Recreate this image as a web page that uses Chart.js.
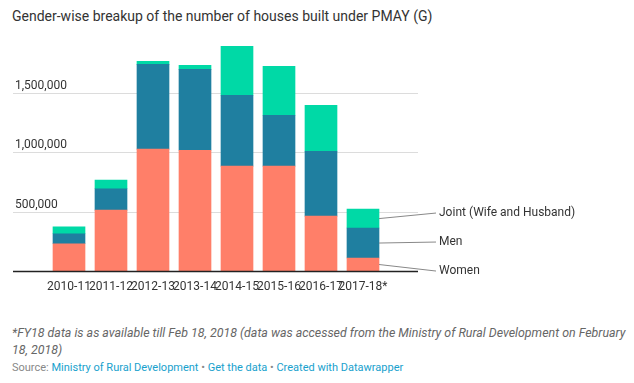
<!DOCTYPE html>
<html>
<head>
<meta charset="utf-8">
<script src="https://cdn.jsdelivr.net/npm/chart.js@4.4.1/dist/chart.umd.min.js"></script>
<style>
  html, body { margin: 0; padding: 0; background: #fff; }
  body { width: 634px; height: 383px; position: relative; overflow: hidden; font-family: Roboto, sans-serif; }
  #title { position: absolute; left: 12px; top: 8px; font-size: 14px; color: #333; white-space: nowrap; }
  #chart { position: absolute; left: 0; top: 25px; }
  #note { position: absolute; left: 12px; top: 324px; width: 620px; font-size: 12.4px; line-height: 17px; font-style: italic; color: #666; }
  #source { position: absolute; left: 12px; top: 361px; font-size: 11px; color: #888; white-space: nowrap; }
  #source a { color: #18a1cd; text-decoration: none; }
</style>
</head>
<body>
<div id="title">Gender-wise breakup of the number of houses built under PMAY (G)</div>
<canvas id="chart" width="634" height="270"></canvas>
<div id="note">*FY18 data is as available till Feb 18, 2018 (data was accessed from the Ministry of Rural Development on February 18, 2018)</div>
<div id="source">Source: <a>Ministry of Rural Development</a> • <a>Get the data</a> • <a>Created with Datawrapper</a></div>
<script>
const years = ["2010-11", "2011-12", "2012-13", "2013-14", "2014-15", "2015-16", "2016-17", "2017-18*"];
const women = [229000, 512000, 1024000, 1015000, 881000, 881000, 461000, 109000];
const men = [84000, 179000, 713000, 680000, 596000, 428000, 545000, 252000];
const joint = [59000, 73000, 25000, 34000, 411000, 411000, 386000, 159000];
const seriesNames = ["Women", "Men", "Joint (Wife and Husband)"];
const yTicks = [500000, 1000000, 1500000];

const COLORS = ["#ff7f69", "#1f7fa0", "#00d9a6"];
const GRID_LEFT = 13;
const GRID_RIGHT = 418;

// grid lines + y labels drawn wider than the plot area, like datawrapper does
const gridPlugin = {
  id: "gridPlugin",
  beforeDatasetsDraw(chart) {
    const ctx = chart.ctx;
    const y = chart.scales.y;
    ctx.save();
    ctx.strokeStyle = "#dcdcdc";
    ctx.lineWidth = 1;
    ctx.font = "12px Roboto";
    ctx.fillStyle = "#333";
    ctx.textAlign = "left";
    ctx.textBaseline = "alphabetic";
    yTicks.forEach((v) => {
      const py = Math.round(y.getPixelForValue(v)) + 0.5;
      ctx.beginPath();
      ctx.moveTo(GRID_LEFT, py);
      ctx.lineTo(GRID_RIGHT, py);
      ctx.stroke();
      ctx.fillText(v.toLocaleString("en-US"), 15, py - 5);
    });
    ctx.restore();
  },
  afterDatasetsDraw(chart) {
    const ctx = chart.ctx;
    const x = chart.scales.x;
    const y = chart.scales.y;
    ctx.save();

    // baseline
    const base = Math.round(y.getPixelForValue(0)) + 0.5;
    ctx.strokeStyle = "#222";
    ctx.lineWidth = 1.5;
    ctx.beginPath();
    ctx.moveTo(GRID_LEFT, base);
    ctx.lineTo(GRID_RIGHT, base);
    ctx.stroke();

    // category labels
    ctx.font = "12px Roboto";
    ctx.fillStyle = "#333";
    ctx.textAlign = "center";
    ctx.textBaseline = "middle";
    years.forEach((lab, i) => {
      ctx.fillText(lab, x.getPixelForValue(i), base + 15);
    });

    // direct labels for the last bar
    const last = years.length - 1;
    const items = chart.data.datasets.map((ds, di) => {
      const el = chart.getDatasetMeta(di).data[last];
      return { name: seriesNames[di], x0: el.x + el.width / 2, y0: (el.y + el.base) / 2, ly: (el.y + el.base) / 2 };
    });
    items.sort((a, b) => a.y0 - b.y0);
    const GAP = 29;
    for (let k = 0; k < 20; k++) {
      for (let i = 1; i < items.length; i++) {
        const d = items[i].ly - items[i - 1].ly;
        if (d < GAP) {
          const push = (GAP - d) / 2;
          items[i].ly += push;
          items[i - 1].ly -= push;
        }
      }
    }
    ctx.strokeStyle = "#888";
    ctx.lineWidth = 1;
    ctx.textAlign = "left";
    ctx.textBaseline = "middle";
    items.forEach((it) => {
      ctx.beginPath();
      ctx.moveTo(it.x0, it.y0);
      ctx.lineTo(436, it.ly);
      ctx.stroke();
      ctx.fillText(it.name, 439, it.ly);
    });
    ctx.restore();
  },
};

new Chart(document.getElementById("chart"), {
  type: "bar",
  data: {
    labels: years,
    datasets: [
      { label: seriesNames[0], data: women, backgroundColor: COLORS[0] },
      { label: seriesNames[1], data: men, backgroundColor: COLORS[1] },
      { label: seriesNames[2], data: joint, backgroundColor: COLORS[2] },
    ],
  },
  options: {
    responsive: false,
    animation: false,
    layout: { padding: { left: 48, right: 250, top: 8, bottom: 24 } },
    datasets: { bar: { barThickness: 32, borderWidth: 0 } },
    plugins: { legend: { display: false }, tooltip: { enabled: false } },
    scales: {
      x: { stacked: true, display: false },
      y: { stacked: true, display: false, min: 0, max: 2000000 },
    },
  },
  plugins: [gridPlugin],
});
</script>
</body>
</html>
